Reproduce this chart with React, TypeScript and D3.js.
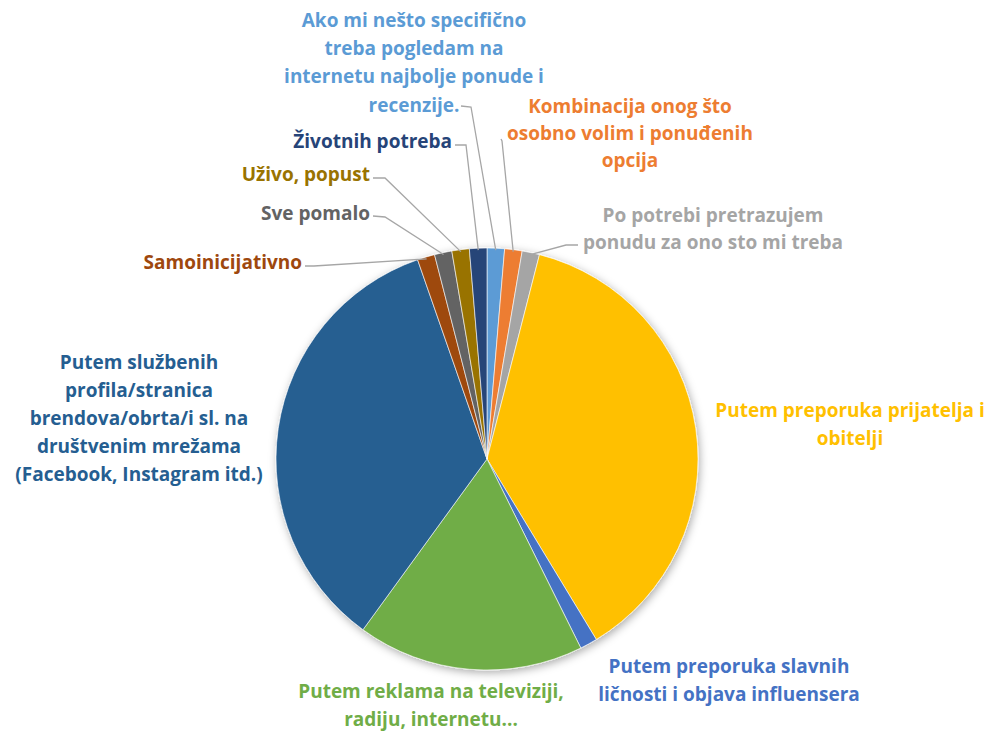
import React from 'react';
import * as d3 from 'd3';

const categories = [
  'Ako mi nešto specifično treba pogledam na internetu najbolje ponude i recenzije.',
  'Kombinacija onog što osobno volim i ponuđenih opcija',
  'Po potrebi pretrazujem ponudu za ono sto mi treba',
  'Putem preporuka prijatelja i obitelji',
  'Putem preporuka slavnih ličnosti i objava influensera',
  'Putem reklama na televiziji, radiju, internetu...',
  'Putem službenih profila/stranica brendova/obrta/i sl. na društvenim mrežama (Facebook, Instagram itd.)',
  'Samoinicijativno',
  'Sve pomalo',
  'Uživo, popust',
  'Životnih potreba',
];
const values = [1, 1, 1, 28, 1, 13, 26, 1, 1, 1, 1];
const colors = ['#5B9BD5', '#ED7D31', '#A5A5A5', '#FFC000', '#4472C4', '#70AD47', '#255E91', '#9E480E', '#636363', '#997300', '#264478'];
const labelLines = [
  ['Ako mi nešto specifično', 'treba pogledam na', 'internetu najbolje ponude i', 'recenzije.'],
  ['Kombinacija onog što', 'osobno volim i ponuđenih', 'opcija'],
  ['Po potrebi pretrazujem', 'ponudu za ono sto mi treba'],
  ['Putem preporuka prijatelja i', 'obitelji'],
  ['Putem preporuka slavnih', 'ličnosti i objava influensera'],
  ['Putem reklama na televiziji,', 'radiju, internetu...'],
  ['Putem službenih', 'profila/stranica', 'brendova/obrta/i sl. na', 'društvenim mrežama', '(Facebook, Instagram itd.)'],
  ['Samoinicijativno'],
  ['Sve pomalo'],
  ['Uživo, popust'],
  ['Životnih potreba'],
];

// layout: label anchor x, first line center y, line spacing, anchor, leader start/elbow
const layout = [
  { x: 414, y: 20, dy: 28.3, anchor: 'middle', leader: [[461, 106], [471, 107]] },
  { x: 630, y: 106, dy: 27, anchor: 'middle', leader: [[501, 139], [502, 141]] },
  { x: 713, y: 215, dy: 27, anchor: 'middle', leader: [[578, 245], [566, 245]] },
  { x: 850, y: 410, dy: 28, anchor: 'middle', leader: null },
  { x: 729, y: 666, dy: 28, anchor: 'middle', leader: null },
  { x: 431, y: 691, dy: 28, anchor: 'middle', leader: null },
  { x: 139, y: 362, dy: 28.2, anchor: 'middle', leader: null },
  { x: 302, y: 262, dy: 28, anchor: 'end', leader: [[305, 266], [314, 266]] },
  { x: 370, y: 213, dy: 28, anchor: 'end', leader: [[373, 216], [385, 217]] },
  { x: 370, y: 174, dy: 28, anchor: 'end', leader: [[373, 178], [385, 178]] },
  { x: 452, y: 141, dy: 28, anchor: 'end', leader: [[455, 145], [466, 145]] },
];

const W = 987;
const H = 731;
const cx = 487;
const cy = 459;
const R = 211;

export default function App() {
  const pie = d3.pie<number>().sort(null).value((d) => d);
  const arcs = pie(values);
  const arc = d3.arc<d3.PieArcDatum<number>>().innerRadius(0).outerRadius(R);
  const edge = d3.arc<d3.PieArcDatum<number>>().innerRadius(R - 2).outerRadius(R - 2);

  return (
    <svg width={W} height={H} style={{ position: 'absolute', left: 0, top: 0, background: '#fff' }}>
      <defs>
        <filter id="sh" x="-20%" y="-20%" width="140%" height="140%">
          <feDropShadow dx="1.5" dy="2.5" stdDeviation="4.5" floodColor="#000" floodOpacity="0.33" />
        </filter>
      </defs>
      <g transform={`translate(${cx},${cy})`}>
        <g filter="url(#sh)">
          {arcs.map((a, i) => (
            <path key={i} d={arc(a) || ''} fill={colors[i]} stroke="#fff" strokeWidth={0.6} />
          ))}
        </g>
      </g>
      {arcs.map((a, i) => {
        const L = layout[i];
        if (!L.leader) return null;
        const [ex, ey] = edge.centroid(a);
        const pts = [...L.leader, [cx + ex, cy + ey]];
        return (
          <path
            key={'l' + i}
            d={d3.line()(pts as [number, number][]) || ''}
            fill="none"
            stroke="#A6A6A6"
            strokeWidth={1.3}
          />
        );
      })}
      {labelLines.map((lines, i) => {
        const L = layout[i];
        return (
          <text
            key={'t' + i}
            textAnchor={L.anchor as any}
            fill={colors[i]}
            fontFamily="'Open Sans', sans-serif"
            fontWeight={700}
            fontSize={19}
          >
            {lines.map((ln, j) => (
              <tspan key={j} x={L.x} y={L.y + j * L.dy} dy="0.35em">
                {ln}
              </tspan>
            ))}
          </text>
        );
      })}
    </svg>
  );
}
